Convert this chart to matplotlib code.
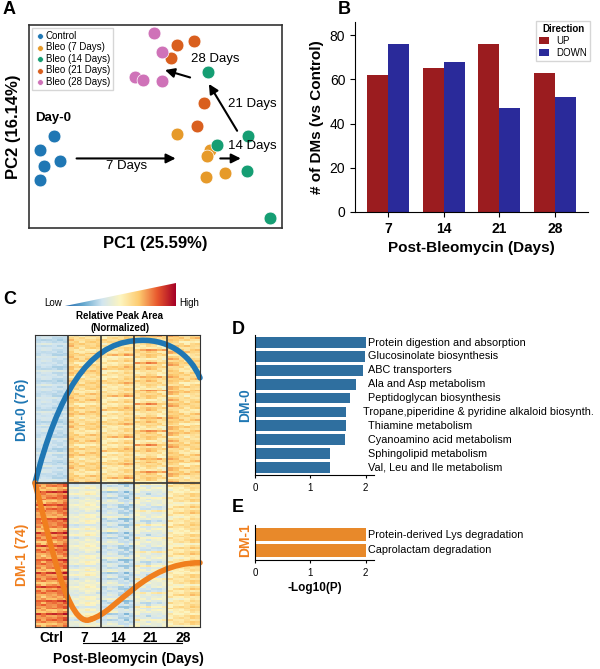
import matplotlib
matplotlib.use("Agg")
import matplotlib.pyplot as plt
import numpy as np
from matplotlib.path import Path
from matplotlib.patches import PathPatch, Polygon
from matplotlib.colors import LinearSegmentedColormap

plt.rcParams['font.family'] = ['Liberation Sans', 'DejaVu Sans']

W, H = 600, 669
fig = plt.figure(figsize=(6, 6.69), dpi=100)

def ax_px(x0, y0, x1, y1, **kw):
    return fig.add_axes([x0 / W, 1 - y1 / H, (x1 - x0) / W, (y1 - y0) / H], **kw)

# ---------------- data ----------------
pca_groups = ['Control', 'Bleo (7 Days)', 'Bleo (14 Days)', 'Bleo (21 Days)', 'Bleo (28 Days)']
pca_colors = ['#1f77b4', '#e69a2a', '#159e73', '#d95f1e', '#cf72b8']
pca_x = [[163, 120, 180, 132, 120], [530, 630, 620, 617, 673], [623, 742, 650, 740, 808],
         [532, 583, 514, 613, 590], [463, 487, 406, 428, 485]]
pca_y = [[408, 452, 483, 498, 540], [403, 452, 468, 533, 521], [215, 408, 437, 515, 656],
         [135, 123, 173, 308, 380], [100, 155, 232, 240, 243]]

days = ['7', '14', '21', '28']
up = [62, 65, 76, 63]
down = [76, 68, 47, 52]

d_terms = ['Protein digestion and absorption', 'Glucosinolate biosynthesis', 'ABC transporters',
           'Ala and Asp metabolism', 'Peptidoglycan biosynthesis',
           'Tropane,piperidine & pyridine alkaloid biosynth.', 'Thiamine metabolism',
           'Cyanoamino acid metabolism', 'Sphingolipid metabolism', 'Val, Leu and Ile metabolism']
d_vals = [2.0, 1.98, 1.95, 1.83, 1.72, 1.65, 1.65, 1.62, 1.35, 1.35]
e_terms = ['Protein-derived Lys degradation', 'Caprolactam degradation']
e_vals = [2.0, 2.0]

# heatmap block levels (0..1) per group: Ctrl, 7, 14, 21, 28
dm0_levels = [0.33, 0.58, 0.62, 0.60, 0.58]
dm1_levels = [0.78, 0.38, 0.36, 0.42, 0.52]
row_offsets = [0.05, -0.08, 0.12, 0.0, -0.04, 0.15, -0.1, 0.03, 0.08, -0.06,
               0.1, -0.02, 0.2, -0.12, 0.04, 0.0, -0.07, 0.13, 0.06, -0.03, 0.09]

# ---------------- Panel A ----------------
axA = ax_px(29, 25, 282, 228)
for g, c, xs, ys in zip(pca_groups, pca_colors, pca_x, pca_y):
    axA.scatter(xs, ys, s=85, color=c, label=g, edgecolor='white', linewidth=0.5, zorder=3)
axA.set_xlim(88, 845)
axA.set_ylim(685, 75)
axA.set_xticks([]); axA.set_yticks([])
for s in axA.spines.values():
    s.set_linewidth(1.2); s.set_color('#333333')
axA.legend(loc='upper left', fontsize=7, handletextpad=0.1, borderpad=0.3, labelspacing=0.15,
           markerscale=0.45, handlelength=1, fancybox=False, borderaxespad=0.3)
arr = dict(arrowstyle='-|>', color='black', lw=1.5, mutation_scale=14)
axA.annotate('', xy=(535, 476), xytext=(222, 476), arrowprops=arr)
axA.annotate('', xy=(730, 476), xytext=(652, 476), arrowprops=arr)
axA.annotate('', xy=(622, 245), xytext=(715, 400), arrowprops=arr)
axA.annotate('', xy=(487, 208), xytext=(578, 235), arrowprops=arr)
axA.text(380, 500, '7 Days', fontsize=9.5, ha='center', va='center')
axA.text(755, 440, '14 Days', fontsize=9.5, ha='center', va='center')
axA.text(755, 312, '21 Days', fontsize=9.5, ha='center', va='center')
axA.text(645, 178, '28 Days', fontsize=9.5, ha='center', va='center')
axA.text(105, 355, 'Day-0', fontsize=9.5, fontweight='bold', ha='left', va='center')
axA.set_xlabel('PC1 (25.59%)', fontsize=12, fontweight='bold', labelpad=6)
axA.set_ylabel('PC2 (16.14%)', fontsize=12, fontweight='bold', labelpad=6)
fig.text(3 / W, 1 - 10 / H, 'A', fontsize=13, fontweight='bold', va='center')

# ---------------- Panel B ----------------
axB = ax_px(355, 22, 588, 212)
x = np.arange(len(days))
bw = 0.38
axB.bar(x - bw / 2, up, bw, color='#9b1c1f', label='UP')
axB.bar(x + bw / 2, down, bw, color='#2a2a9a', label='DOWN')
axB.set_xticks(x, days, fontsize=10, fontweight='bold')
axB.set_yticks([0, 20, 40, 60, 80])
axB.tick_params(axis='y', labelsize=10)
axB.set_ylim(0, 86)
axB.set_xlim(-0.6, 3.6)
axB.spines['top'].set_visible(False); axB.spines['right'].set_visible(False)
axB.set_xlabel('Post-Bleomycin (Days)', fontsize=11, fontweight='bold')
axB.set_ylabel('# of DMs (vs Control)', fontsize=11, fontweight='bold')
leg = axB.legend(title='Direction', loc='upper right', fontsize=7, title_fontsize=7,
                 handlelength=1, handleheight=0.8, borderpad=0.3, labelspacing=0.2, fancybox=False,
                 bbox_to_anchor=(1.03, 1.03))
leg.get_title().set_fontweight('bold')
fig.text(338 / W, 1 - 10 / H, 'B', fontsize=13, fontweight='bold', va='center')

# ---------------- Panel C ----------------
cmap = LinearSegmentedColormap.from_list('rb', ['#2166ac', '#67a9cf', '#d1e5f0', '#fdf5c0',
                                                 '#fdcb70', '#e8582d', '#a50026'])
axC = ax_px(35, 335, 200, 627)
ncol_blk = 6
rows0, rows1 = 76, 74
nro = len(row_offsets)
mat = np.zeros((rows0 + rows1, 5 * ncol_blk))
for gi, levels in enumerate([dm0_levels, dm1_levels]):
    nrows = rows0 if gi == 0 else rows1
    start = 0 if gi == 0 else rows0
    for r in range(nrows):
        for b in range(5):
            for c in range(ncol_blk):
                ro = row_offsets[(r * 7 + c * 5 + b * 3 + gi) % nro]
                ro2 = row_offsets[(r * 3 + b * 11) % nro]
                scale = 0.35 if b == 0 and gi == 0 else 0.9
                mat[start + r, b * ncol_blk + c] = levels[b] + scale * (0.6 * ro + 0.7 * ro2)
axC.imshow(mat, cmap=cmap, vmin=0, vmax=1.05, aspect='auto', interpolation='nearest',
           extent=(0, 5, rows0 + rows1, 0))
for b in range(1, 5):
    axC.axvline(b, color='#333333', lw=1.2)
axC.axhline(rows0, color='#333333', lw=1.2)
axC.set_xlim(0, 5); axC.set_ylim(rows0 + rows1, 0)
axC.set_yticks([])
axC.set_xticks([0.5, 1.5, 2.5, 3.5, 4.5], ['Ctrl', '7', '14', '21', '28'], fontsize=10, fontweight='bold')
axC.tick_params(axis='x', length=0, pad=3)
for s in axC.spines.values():
    s.set_color('#333333')
# trend curves
def curve(pts, color):
    axC.add_patch(PathPatch(Path(pts, [Path.MOVETO, Path.CURVE4, Path.CURVE4, Path.CURVE4]),
                            fill=False, ec=color, lw=4, clip_on=False, capstyle='round'))
curve([(0, 76), (0.7, 30), (1.6, 5), (3.0, 3)], '#1f77b4')
curve([(3.0, 3), (4.0, 1), (4.7, 10), (5, 22)], '#1f77b4')
curve([(0, 76), (0.45, 105), (1.0, 152), (1.7, 146)], '#f07f1e')
curve([(1.7, 146), (2.5, 142), (3.3, 117), (5, 117)], '#f07f1e')
fig.text(22 / W, 1 - 410 / H, 'DM-0 (76)', rotation=90, color='#1f77b4', fontsize=10,
         fontweight='bold', ha='center', va='center')
fig.text(22 / W, 1 - 555 / H, 'DM-1 (74)', rotation=90, color='#f07f1e', fontsize=10,
         fontweight='bold', ha='center', va='center')
fig.text(128 / W, 1 - 659 / H, 'Post-Bleomycin (Days)', fontsize=10, fontweight='bold',
         ha='center', va='center')
fig.add_artist(plt.Line2D([83 / W, 182 / W], [1 - 643 / H, 1 - 643 / H], color='black', lw=0.8))
# colour triangle legend
axT = ax_px(65, 283, 176, 306)
grad = np.linspace(0, 1, 256)[None, :]
im = axT.imshow(grad, cmap=cmap, aspect='auto', extent=(0, 1, 0, 1))
tri = Polygon([(0, 0), (1, 0), (1, 1)], closed=True, transform=axT.transData)
im.set_clip_path(tri)
axT.set_xlim(0, 1); axT.set_ylim(0, 1); axT.axis('off')
fig.text(62 / W, 1 - 303 / H, 'Low', fontsize=7, ha='right', va='center')
fig.text(179 / W, 1 - 303 / H, 'High', fontsize=7, ha='left', va='center')
fig.text(120 / W, 1 - 322 / H, 'Relative Peak Area\n(Normalized)', fontsize=7, fontweight='bold',
         ha='center', va='center', linespacing=1.2)
fig.text(3 / W, 1 - 299 / H, 'C', fontsize=13, fontweight='bold', va='center')

# ---------------- Panel D ----------------
axD = ax_px(255, 335, 374, 475)
yd = np.arange(len(d_terms))
axD.barh(yd, d_vals, height=0.78, color='#2f6f9f')
axD.set_ylim(len(d_terms) - 0.45, -0.55)
axD.set_xlim(0, 2.15)
axD.set_xticks([0, 1, 2]); axD.tick_params(axis='x', labelsize=7, length=2)
axD.set_yticks([])
axD.spines['top'].set_visible(False); axD.spines['right'].set_visible(False)
for i, (t, v) in enumerate(zip(d_terms, d_vals)):
    axD.text(2.05 if i != 5 else 1.95, i, t, fontsize=7.8, va='center', ha='left')
fig.text(245 / W, 1 - 405 / H, 'DM-0', rotation=90, color='#1f77b4', fontsize=10,
         fontweight='bold', ha='center', va='center')
fig.text(232 / W, 1 - 329 / H, 'D', fontsize=13, fontweight='bold', va='center')

# ---------------- Panel E ----------------
axE = ax_px(255, 525, 374, 560)
ye = np.arange(len(e_terms))
axE.barh(ye, e_vals, height=0.78, color='#e8892a')
axE.set_ylim(1.6, -0.6)
axE.set_xlim(0, 2.15)
axE.set_xticks([0, 1, 2]); axE.tick_params(axis='x', labelsize=7, length=2)
axE.set_yticks([])
axE.spines['top'].set_visible(False); axE.spines['right'].set_visible(False)
for i, t in enumerate(e_terms):
    axE.text(2.05, i, t, fontsize=7.8, va='center', ha='left')
axE.set_xlabel('-Log10(P)', fontsize=8.5, fontweight='bold', labelpad=3)
fig.text(245 / W, 1 - 540 / H, 'DM-1', rotation=90, color='#f07f1e', fontsize=10,
         fontweight='bold', ha='center', va='center')
fig.text(232 / W, 1 - 508 / H, 'E', fontsize=13, fontweight='bold', va='center')

fig.savefig('out.png', dpi=100)
